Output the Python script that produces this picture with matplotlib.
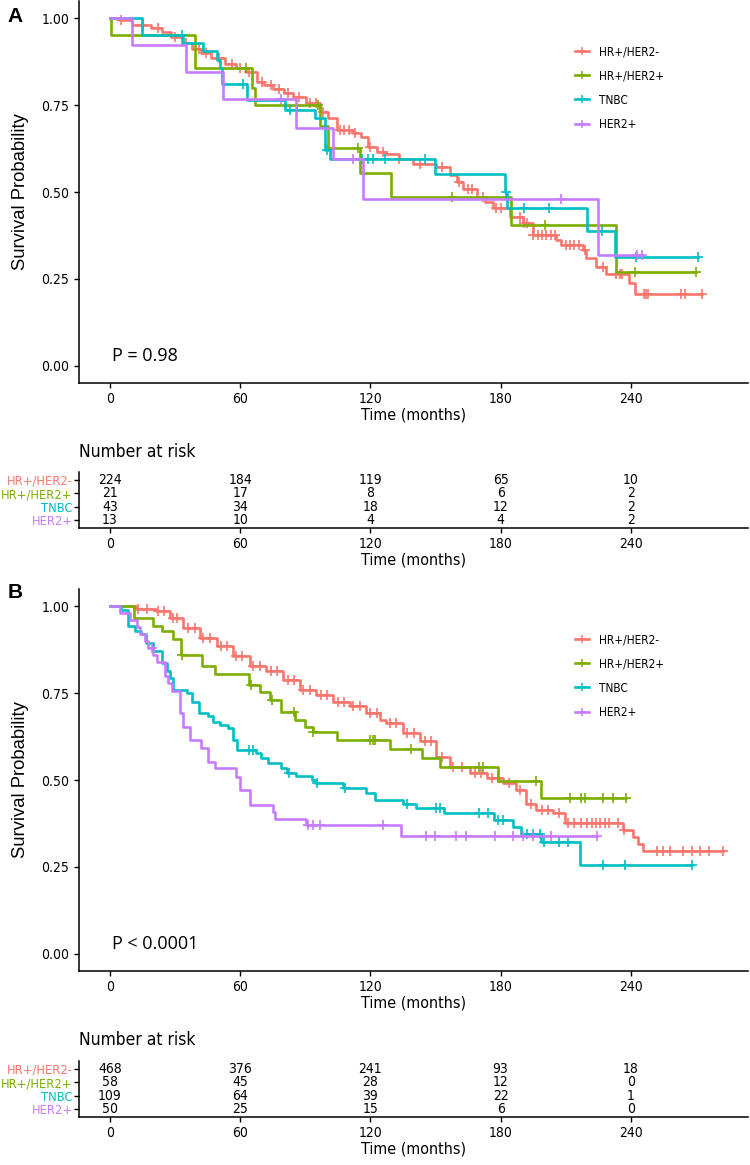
import numpy as np
import matplotlib.pyplot as plt
from matplotlib.lines import Line2D
from matplotlib import font_manager

groups = ['HR+/HER2-', 'HR+/HER2+', 'TNBC', 'HER2+']
colors = ['#F8766D', '#7CAE00', '#00BFC4', '#C77CFF']
risk_times = [0, 60, 120, 180, 240]

# ---- panel A : step curves (event time, survival after event) and censor times
a_t = [
    [0, 4, 10, 19, 24, 28, 33, 38, 42, 46.6, 53, 58, 62.7, 67.5, 71, 75, 80, 84.4, 90.5, 96.7,
     100.5, 104.4, 112, 115.8, 118.9, 122.8, 127.4, 133, 139.7, 150.4, 156.6, 160, 162.7, 168.9,
     173, 176.6, 184.2, 190.4, 195, 205.7, 208, 217.9, 219.4, 224, 228.6, 239.3, 241.7],
    [0, 0.5, 39.1, 65.2, 67, 96.7, 100.5, 115.1, 129.7, 184.9, 233],
    [0, 14.6, 33.5, 43, 49.2, 50.5, 51.7, 62.9, 80.6, 94.4, 99, 101.5, 149.6, 181.9, 182.8, 219.8, 232.5],
    [0, 10, 34.8, 51.9, 85.6, 102.8, 116.6, 224.8],
]
a_s = [
    [1.0, 0.995, 0.98, 0.971, 0.96, 0.947, 0.93, 0.913, 0.9, 0.885, 0.870, 0.858, 0.846, 0.817, 0.808,
     0.798, 0.786, 0.774, 0.755, 0.731, 0.712, 0.678, 0.669, 0.659, 0.630, 0.616, 0.609, 0.595, 0.582,
     0.573, 0.549, 0.53, 0.510, 0.486, 0.47, 0.453, 0.429, 0.410, 0.376, 0.362, 0.347, 0.333, 0.309,
     0.285, 0.264, 0.237, 0.206],
    [1.0, 0.952, 0.857, 0.80, 0.750, 0.690, 0.628, 0.555, 0.486, 0.405, 0.270],
    [1.0, 0.953, 0.930, 0.907, 0.880, 0.856, 0.811, 0.765, 0.736, 0.712, 0.62, 0.594, 0.553, 0.501,
     0.453, 0.388, 0.312],
    [1.0, 0.923, 0.846, 0.769, 0.685, 0.596, 0.479, 0.318],
]
a_cens = [
    [5, 15, 22, 30, 35, 41, 44, 50, 56, 60, 64, 70, 74, 78, 82, 87, 92, 95, 98, 106, 108, 110, 113,
     120, 126, 133, 143, 153, 161, 165, 167, 172, 178, 180, 189, 191, 192, 195, 197, 199, 201, 203,
     205, 210, 212, 214, 216, 219, 227, 233, 235, 236, 246, 247, 248, 263, 265, 273],
    [62.7, 96, 114.5, 157.8, 200.3, 241.7, 270],
    [33.1, 61.5, 83, 86, 100, 116, 119, 121, 126.6, 145, 182.6, 190.6, 202.1, 226.6, 242.5, 270.9],
    [79, 112, 208, 243, 245],
]
a_risk = [[224, 184, 119, 65, 10], [21, 17, 8, 6, 2], [43, 34, 18, 12, 2], [13, 10, 4, 4, 2]]

# ---- panel B
b_t = [
    [0, 11.9, 21.1, 27.6, 33.8, 41.4, 49.1, 56.8, 64.4, 72.1, 79.8, 87.5, 95.1, 102.8, 110.5, 118.1,
     124.3, 127.4, 135, 142.7, 150.4, 156.6, 165.8, 173.5, 181.1, 187.3, 191.9, 196.5, 204.2, 209.5,
     236.4, 241, 243.3, 245.6],
    [0, 11, 20, 23.8, 29.2, 32.7, 42.6, 48.4, 64, 69, 73.6, 79, 85.1, 89.7, 93.5, 104.4, 128.9,
     143.9, 151.9, 178.8, 198.7],
    [0, 5, 8.5, 11.5, 14.5, 16.8, 19.9, 23.8, 26.2, 27.7, 29.2, 35.3, 38, 41.1, 45.3, 47.6, 50.7,
     54.5, 56.8, 58.7, 67.2, 69.5, 73, 79, 81.4, 85.9, 93, 94.5, 107.2, 118, 122, 135, 141, 154,
     176.8, 185.7, 189.5, 198.8, 216.7],
    [0, 4.6, 9.2, 12.3, 13.8, 16.1, 17.6, 19.9, 21.5, 25.3, 26.8, 28.4, 32.2, 33.4, 36.8, 42.1, 45.2,
     48.2, 58.2, 59.8, 64.4, 75.1, 75.9, 90.5, 134.3],
]
b_s = [
    [1.0, 0.993, 0.987, 0.967, 0.938, 0.909, 0.885, 0.856, 0.827, 0.813, 0.789, 0.760, 0.746, 0.726,
     0.712, 0.693, 0.673, 0.664, 0.635, 0.611, 0.567, 0.538, 0.519, 0.505, 0.490, 0.471, 0.432,
     0.413, 0.404, 0.375, 0.355, 0.336, 0.317, 0.295],
    [1.0, 0.966, 0.943, 0.929, 0.905, 0.861, 0.827, 0.806, 0.773, 0.753, 0.731, 0.695, 0.673, 0.654,
     0.637, 0.615, 0.590, 0.563, 0.538, 0.497, 0.449],
    [1.0, 0.99, 0.943, 0.929, 0.919, 0.895, 0.871, 0.837, 0.813, 0.794, 0.760, 0.750, 0.726, 0.693,
     0.683, 0.668, 0.659, 0.649, 0.615, 0.587, 0.577, 0.563, 0.548, 0.534, 0.519, 0.511, 0.500,
     0.490, 0.476, 0.462, 0.442, 0.432, 0.418, 0.404, 0.386, 0.365, 0.344, 0.322, 0.254],
    [1.0, 0.98, 0.96, 0.94, 0.92, 0.90, 0.88, 0.86, 0.84, 0.80, 0.78, 0.755, 0.693, 0.654, 0.615,
     0.591, 0.553, 0.534, 0.509, 0.471, 0.428, 0.409, 0.389, 0.370, 0.338],
]
b_cens = [
    [13, 17, 22, 25, 29, 31, 36, 39, 43, 46, 51, 54, 58, 61, 66, 69, 74, 77, 82, 85, 89, 92, 97, 100,
     105, 108, 112, 115, 120, 123, 129, 132, 137, 140, 145, 148, 153, 158, 162, 168, 171, 176, 179,
     184, 189, 194, 199, 202, 207, 211, 214, 217, 220, 222, 224, 226, 228, 230, 234, 237, 252, 255,
     258, 264, 268, 272, 276, 282.4],
    [33, 65, 74.5, 85, 93.5, 120, 121, 122, 138.9, 170, 172, 196.4, 212, 217, 219, 227, 232, 237.8],
    [64, 66, 82.5, 95.5, 108.5, 136.9, 150, 152, 170, 174, 179, 181, 192, 195, 198, 200, 207, 211,
     227, 237.4, 268],
    [19.5, 91.3, 93.6, 96.6, 125.8, 145.8, 149.6, 159.6, 164.2, 177.3, 185.7, 190.3, 194.9, 203.3, 224.3],
]
b_risk = [[468, 376, 241, 93, 18], [58, 45, 28, 12, 0], [109, 64, 39, 22, 1], [50, 25, 15, 6, 0]]

# pick a narrow font if one is around
have_cond = any(f.name == 'DejaVu Sans' and f.stretch == 'condensed'
                for f in font_manager.fontManager.ttflist)
if have_cond:
    plt.rcParams['font.family'] = ['DejaVu Sans']
    plt.rcParams['font.stretch'] = 'condensed'
else:
    plt.rcParams['font.family'] = ['Liberation Sans', 'DejaVu Sans']

W, H = 750, 1165
fig = plt.figure(figsize=(W / 100, H / 100), dpi=100)

def box(left, top, right, bottom):
    return [left / W, 1 - bottom / H, (right - left) / W, (bottom - top) / H]

XLIM = (-14.3, 294)

def style(ax):
    for s in ['top', 'right']:
        ax.spines[s].set_visible(False)
    for s in ['left', 'bottom']:
        ax.spines[s].set_linewidth(1.1)
    ax.tick_params(length=3.5, width=1, colors='black', labelsize=10)
    ax.tick_params(axis='x', pad=3)
    ax.set_xlim(*XLIM)
    ax.set_xticks(risk_times)
    ax.set_xlabel('Time (months)', fontsize=11.5, labelpad=1)

def km_panel(ax, ts, ss, cens, ptext, legend_y):
    for t, s, c, col, g in zip(ts, ss, cens, colors, groups):
        end = max(c)
        ax.step(list(t) + [end], list(s) + [s[-1]], where='post', color=col, lw=1.9)
        cy = [s[np.searchsorted(t, v, side='right') - 1] for v in c]
        ax.plot(c, cy, '+', color=col, ms=7, mew=1.2)
    style(ax)
    ax.set_ylim(-0.05, 1.05)
    ax.set_yticks([0, 0.25, 0.5, 0.75, 1.0])
    ax.set_yticklabels(['0.00', '0.25', '0.50', '0.75', '1.00'])
    ax.set_ylabel('Survival Probability', fontsize=13.3, family=['Liberation Sans', 'DejaVu Sans'],
                  fontstretch='normal', labelpad=9)
    ax.text(1, 0.028, ptext, fontsize=13, family=['Open Sans', 'DejaVu Sans'], fontstretch='normal',
            ha='left', va='center')
    handles = [Line2D([], [], color=col, marker='+', lw=1.9, ms=6, mew=1.1) for col in colors]
    fig.legend(handles, groups, loc='center left', bbox_to_anchor=(575 / W, 1 - legend_y / H),
               frameon=False, fontsize=8.5, handlelength=1.2, handletextpad=0.8,
               labelspacing=0.95, borderpad=0, borderaxespad=0)

def risk_panel(ax, risk, title_y):
    for i, row in enumerate(risk):
        for x, n in zip(risk_times, row):
            ax.text(x, 4 - i, str(n), ha='center', va='center', fontsize=10)
    style(ax)
    ax.set_ylim(0.4, 4.6)
    ax.set_yticks([4, 3, 2, 1])
    ax.set_yticklabels(groups, fontsize=9.3)
    for lab, col in zip(ax.get_yticklabels(), colors):
        lab.set_color(col)
    ax.tick_params(axis='y', pad=1)
    fig.text(79 / W, 1 - title_y / H, 'Number at risk', fontsize=12.5, ha='left', va='center')

axA = fig.add_axes(box(79, 1, 748, 383))
km_panel(axA, a_t, a_s, a_cens, 'P = 0.98', 88)
rA = fig.add_axes(box(79, 471.7, 748, 528))
risk_panel(rA, a_risk, 452)

axB = fig.add_axes(box(79, 589, 748, 971))
km_panel(axB, b_t, b_s, b_cens, 'P < 0.0001', 676)
rB = fig.add_axes(box(79, 1060.7, 748, 1117))
risk_panel(rB, b_risk, 1040)

for lab, y in [('A', 16), ('B', 592)]:
    fig.text(15 / W, 1 - y / H, lab, fontsize=15, fontweight='bold', ha='center', va='center',
             family=['Liberation Sans', 'DejaVu Sans'], fontstretch='normal')

fig.savefig('out.png', dpi=100)
